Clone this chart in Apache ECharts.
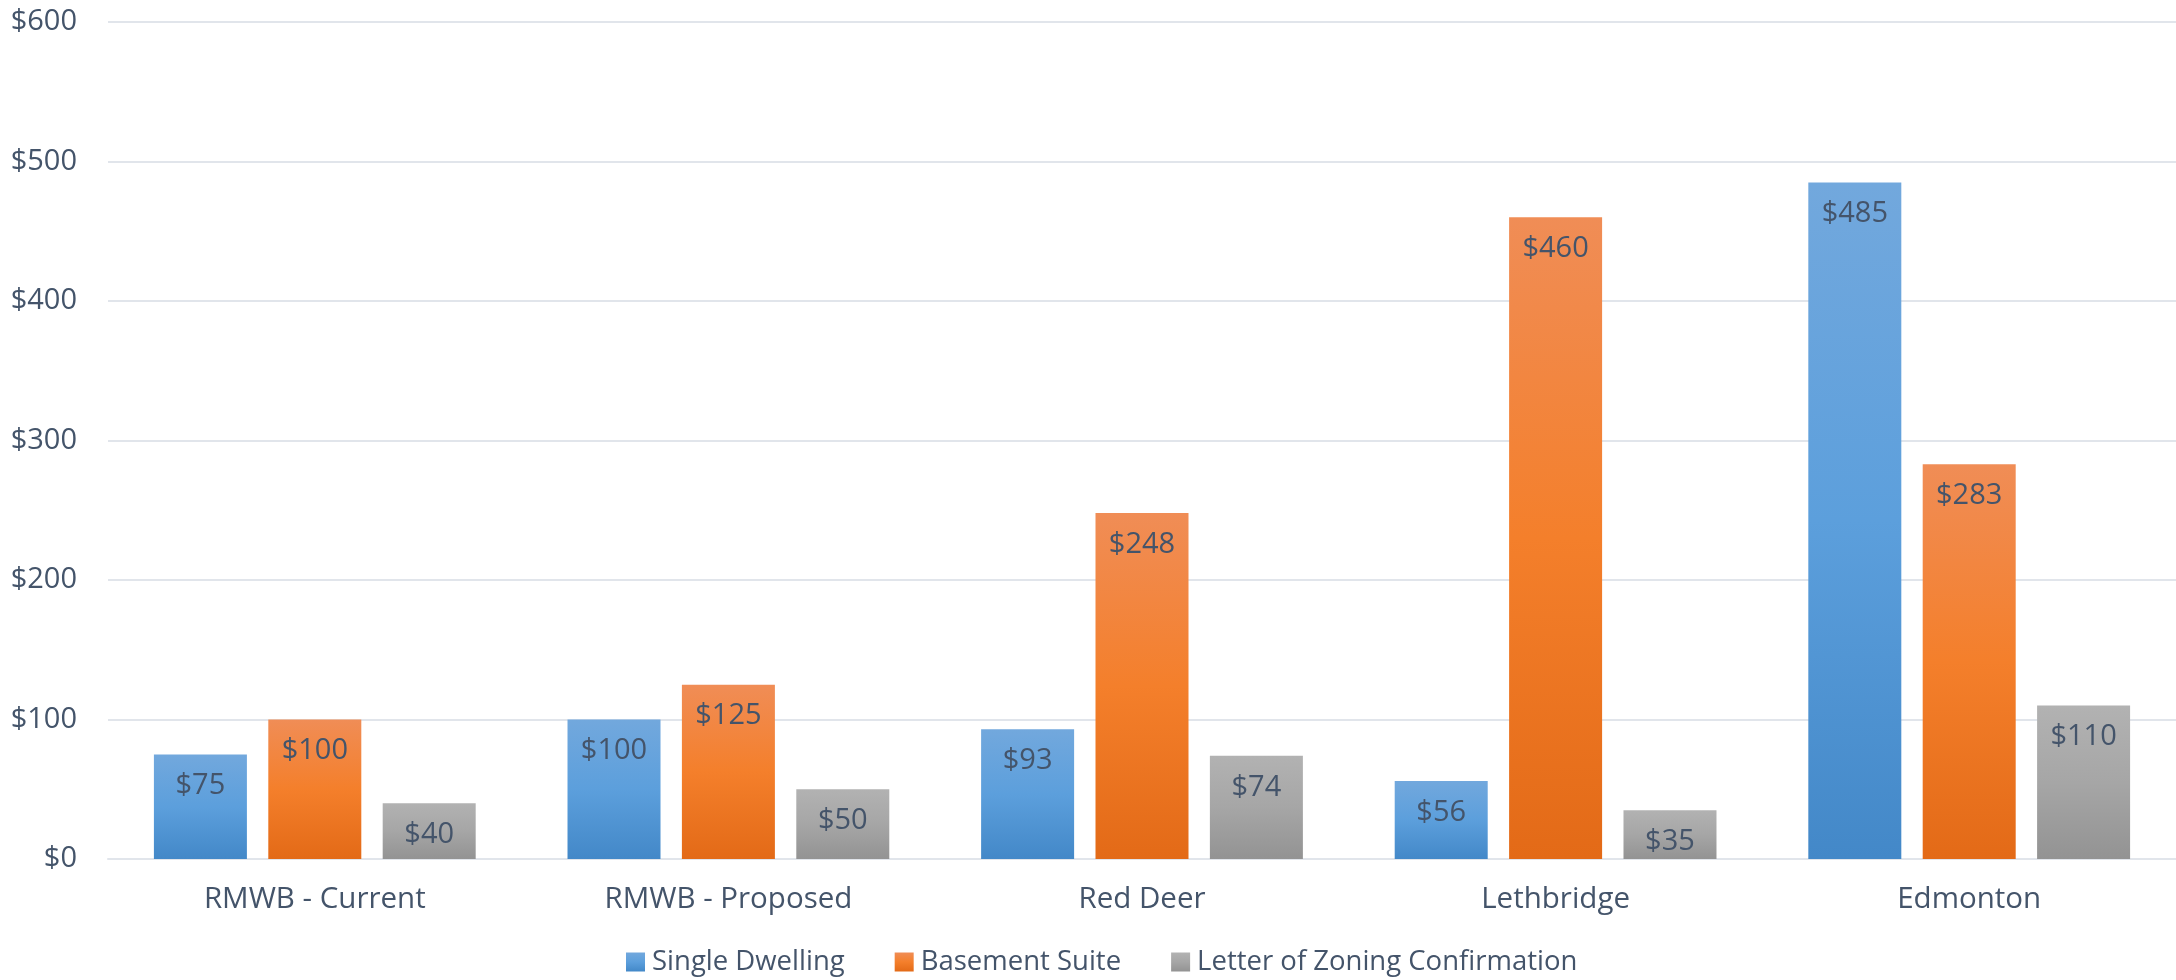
<!DOCTYPE html>
<html>
<head>
<meta charset="utf-8">
<script src="https://cdn.jsdelivr.net/npm/echarts@6/dist/echarts.min.js"></script>
<style>
html,body{margin:0;padding:0;background:#fff;}
#chart{width:2176px;height:980px;}
</style>
</head>
<body>
<div id="chart"></div>
<script>
const categories = ['RMWB - Current', 'RMWB - Proposed', 'Red Deer', 'Lethbridge', 'Edmonton'];
const singleDwelling = [75, 100, 93, 56, 485];
const basementSuite = [100, 125, 248, 460, 283];
const letterOfZoning = [40, 50, 74, 35, 110];
const seriesNames = ['Single Dwelling', 'Basement Suite', 'Letter of Zoning Confirmation'];

const textColor = '#44546a';
const font = '"Open Sans", sans-serif';

function grad(top, mid, bottom) {
  return new echarts.graphic.LinearGradient(0, 0, 0, 1, [
    {offset: 0, color: top},
    {offset: 0.5, color: mid},
    {offset: 1, color: bottom}
  ]);
}

const fills = [
  grad('#72a8dd', '#5c9fdc', '#4388c8'),
  grad('#f08d56', '#f47f2b', '#e36a17'),
  grad('#b2b2b2', '#a6a6a6', '#939393')
];

const dataSets = [singleDwelling, basementSuite, letterOfZoning];

const chart = echarts.init(document.getElementById('chart'), null, {renderer: 'canvas'});
chart.setOption({
  animation: false,
  backgroundColor: '#ffffff',
  grid: {left: 108, right: 0, top: 22, bottom: 121, containLabel: false},
  legend: {
    data: seriesNames,
    left: 621,
    top: 943,
    itemWidth: 19,
    itemHeight: 19,
    itemGap: 50,
    icon: 'rect',
    textStyle: {color: textColor, fontSize: 27.5, fontFamily: font, padding: [0, 0, 0, 2]}
  },
  xAxis: {
    type: 'category',
    data: categories,
    axisLine: {show: true, lineStyle: {color: '#e1e5eb', width: 2}},
    axisTick: {show: false},
    axisLabel: {color: textColor, fontSize: 29.5, fontFamily: font, margin: 26}
  },
  yAxis: {
    type: 'value',
    min: 0,
    max: 600,
    interval: 100,
    axisLine: {show: false},
    axisTick: {show: false},
    splitLine: {lineStyle: {color: '#e1e5eb', width: 2}},
    axisLabel: {color: textColor, fontSize: 29, fontFamily: font, margin: 31, formatter: v => '$' + v}
  },
  series: seriesNames.map((name, i) => ({
    name: name,
    type: 'bar',
    data: dataSets[i],
    barWidth: 93,
    barGap: '23%',
    itemStyle: {color: fills[i]},
    label: {
      show: true,
      position: 'insideTop',
      distance: 17,
      color: textColor,
      fontSize: 29,
      fontFamily: font,
      formatter: p => '$' + p.value
    }
  }))
});
</script>
</body>
</html>
